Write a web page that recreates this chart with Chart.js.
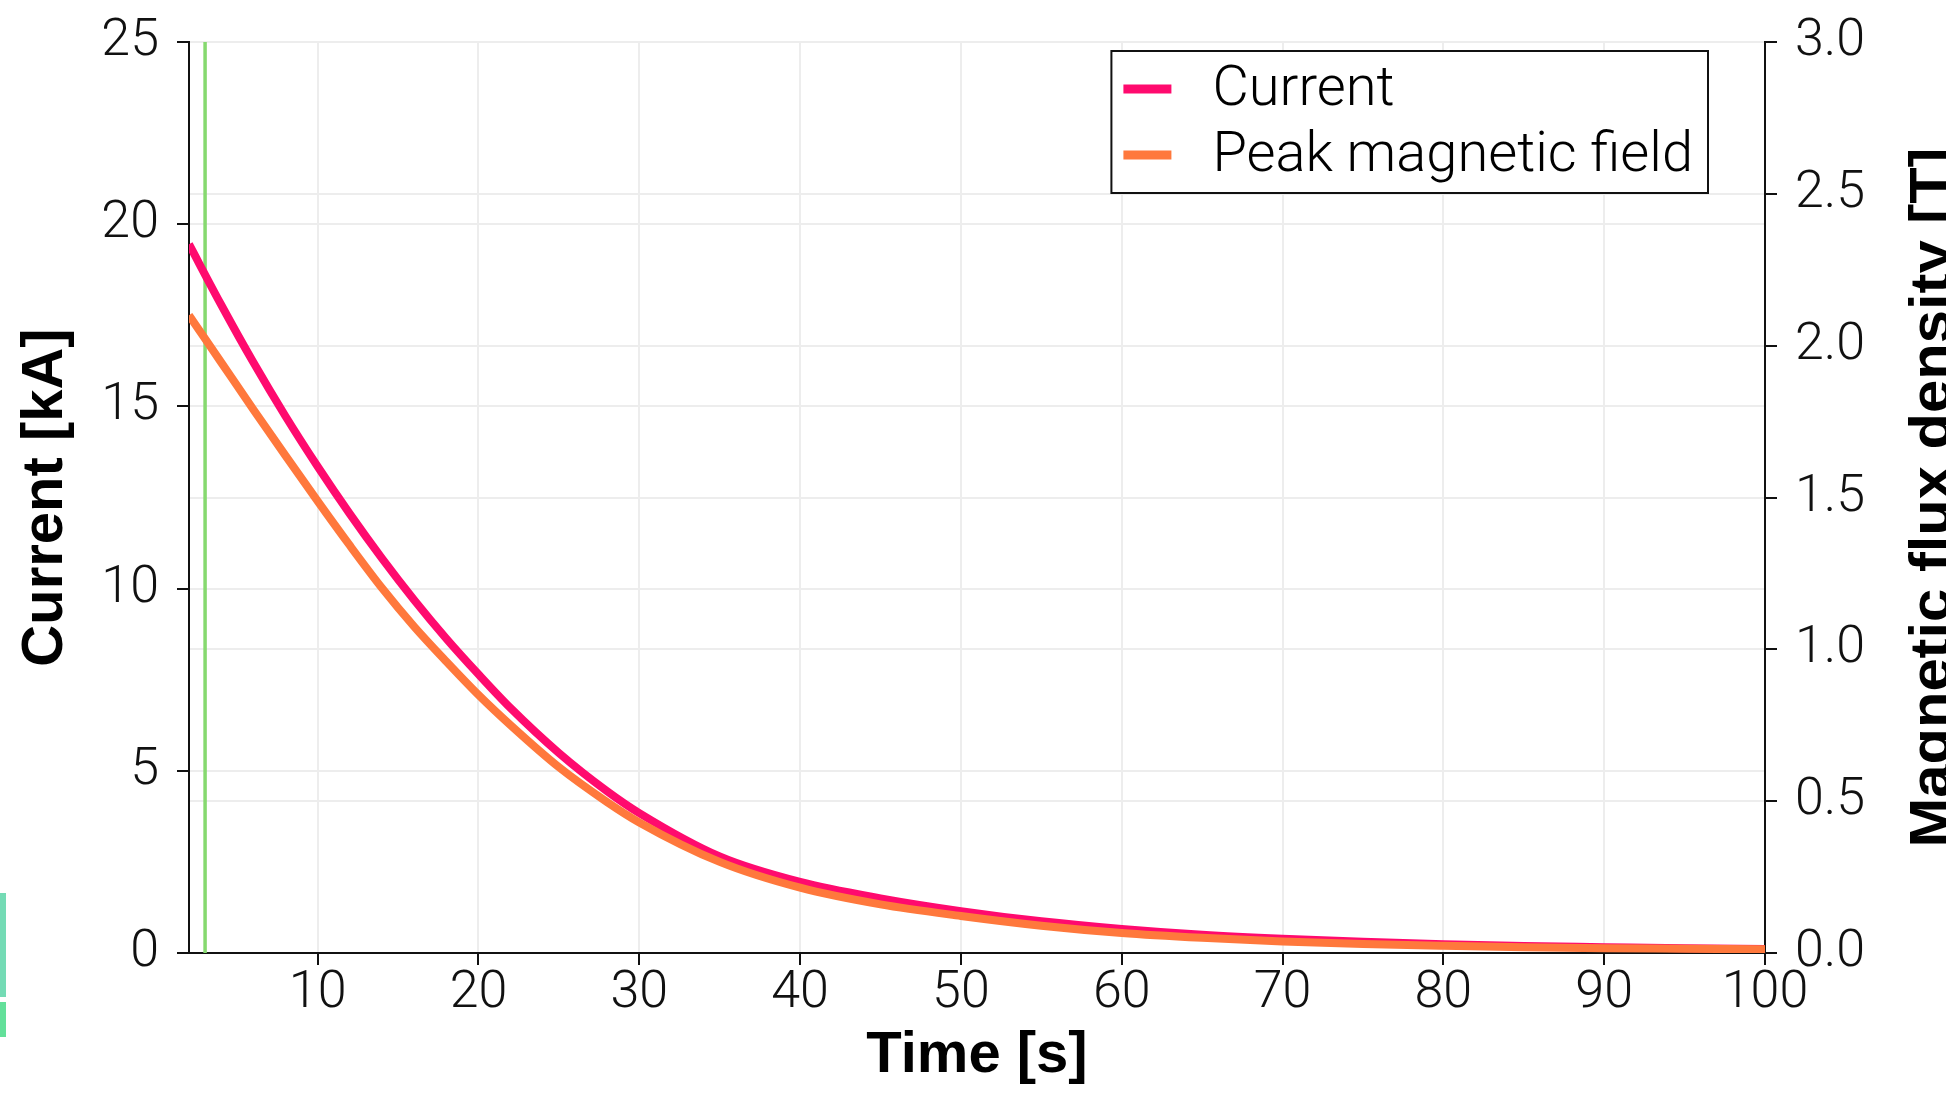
<!DOCTYPE html>
<html>
<head>
<meta charset="utf-8">
<title>Current and peak magnetic field decay</title>
<script src="https://cdn.jsdelivr.net/npm/chart.js@4.4.1/dist/chart.umd.min.js"></script>
<style>
	html, body { margin: 0; padding: 0; background: #fff; }
	#wrap { position: relative; width: 1946px; height: 1095px; }
</style>
</head>
<body>
<div id="wrap"><canvas id="chart"></canvas></div>
<script>
// values
const timeS = [2, 4, 6, 8, 10, 12, 14, 16, 18, 20, 22, 25, 28, 30, 35, 40, 45, 50, 55, 60, 65, 70, 75, 80, 85, 90, 95, 100];
const currentKA = [19.45, 17.79, 16.21, 14.73, 13.35, 12.05, 10.83, 9.69, 8.63, 7.65, 6.72, 5.49, 4.44, 3.84, 2.65, 1.95, 1.5, 1.15, 0.87, 0.66, 0.5, 0.39, 0.31, 0.24, 0.19, 0.16, 0.13, 0.11];
const peakFieldT = [2.1, 1.945, 1.79, 1.638, 1.488, 1.342, 1.202, 1.075, 0.96, 0.85, 0.75, 0.612, 0.497, 0.43, 0.3, 0.215, 0.16, 0.122, 0.09, 0.066, 0.05, 0.038, 0.03, 0.024, 0.019, 0.016, 0.014, 0.012];
const timeTicks = [10, 20, 30, 40, 50, 60, 70, 80, 90, 100];
const markerTime = 3;
const currentRange = [0, 25];
const fieldRange = [0, 3];

const tickFont = { family: 'Roboto', size: 52, weight: '300' };
// tighter line height so the top label does not push the plot down
const yTickFont = { family: 'Roboto', size: 52, weight: '300', lineHeight: 0.9 };
const titleFont = { family: '"Liberation Sans"', size: 58, weight: 'bold' };
const gridColor = '#ededed';

function toPoints(xs, ys) {
	return xs.map((x, i) => ({ x, y: ys[i] }));
}

// legend box, right-hand title and the two stray marks at the left edge
const extrasPlugin = {
	id: 'extras',
	afterDraw(chart) {
		const { ctx, chartArea } = chart;
		const items = chart.data.datasets.filter((ds) => ds.inLegend);

		ctx.save();
		ctx.font = '300 56px Roboto';
		const textWidth = Math.max(...items.map((ds) => ctx.measureText(ds.label).width));
		const right = chartArea.right - 57;
		const left = right - (12 + 48 + 41 + textWidth + 15);
		const top = chartArea.top + 9;
		const rowHeight = 66;
		const height = 38 + rowHeight + 38;

		ctx.fillStyle = '#fff';
		ctx.fillRect(left, top, right - left, height);
		ctx.strokeStyle = '#111';
		ctx.lineWidth = 2;
		ctx.strokeRect(left, top, right - left, height);

		items.forEach((ds, i) => {
			const cy = top + 38 + i * rowHeight;
			ctx.strokeStyle = ds.borderColor;
			ctx.lineWidth = 9;
			ctx.beginPath();
			ctx.moveTo(left + 12, cy);
			ctx.lineTo(left + 60, cy);
			ctx.stroke();
			ctx.fillStyle = '#000';
			ctx.textBaseline = 'middle';
			ctx.textAlign = 'left';
			ctx.fillText(ds.label, left + 101, cy + 2);
		});

		// right axis title reads bottom-to-top and runs off the canvas edge
		const rightTitle = 'Magnetic flux density [T]';
		ctx.font = 'bold 58px "Liberation Sans"';
		const w = ctx.measureText(rightTitle).width;
		ctx.translate(chart.width + 4, (chartArea.top + chartArea.bottom) / 2);
		ctx.rotate(-Math.PI / 2);
		ctx.scale(700 / w, 1);
		ctx.textAlign = 'center';
		ctx.textBaseline = 'alphabetic';
		ctx.fillStyle = '#000';
		ctx.fillText(rightTitle, 0, 0);
		ctx.restore();

		ctx.save();
		ctx.fillStyle = '#74dbb5';
		ctx.fillRect(0, 893, 6, 104);
		ctx.fillStyle = '#63e09a';
		ctx.fillRect(0, 1002, 6, 35);
		ctx.restore();
	},
};

const ctx = document.getElementById('chart');

new Chart(ctx, {
	type: 'line',
	data: {
		datasets: [
			{
				label: 'Current',
				data: toPoints(timeS, currentKA),
				yAxisID: 'yCurrent',
				borderColor: '#ff0a6e',
				borderWidth: 8,
				pointRadius: 0,
				cubicInterpolationMode: 'monotone',
				order: 1,
				inLegend: true,
			},
			{
				label: 'Peak magnetic field',
				data: toPoints(timeS, peakFieldT),
				yAxisID: 'yField',
				borderColor: '#ff783c',
				borderWidth: 8,
				pointRadius: 0,
				cubicInterpolationMode: 'monotone',
				order: 0,
				inLegend: true,
			},
			{
				label: 'marker',
				data: currentRange.map((y) => ({ x: markerTime, y })),
				yAxisID: 'yCurrent',
				borderColor: '#86d96f',
				borderWidth: 3.5,
				pointRadius: 0,
				order: 2,
				inLegend: false,
			},
		],
	},
	options: {
		responsive: true,
		maintainAspectRatio: false,
		animation: false,
		layout: { padding: { top: 42, left: 0, right: 0, bottom: 0 } },
		plugins: {
			legend: { display: false },
			tooltip: { enabled: false },
		},
		scales: {
			x: {
				type: 'linear',
				min: 2,
				max: 100,
				afterBuildTicks: (scale) => {
					scale.ticks = timeTicks.map((value) => ({ value }));
				},
				afterFit: (scale) => {
					scale.height = 142;
				},
				grid: { color: gridColor, lineWidth: 2, tickColor: '#111', tickLength: 12, tickWidth: 2 },
				border: { color: '#111', width: 2 },
				ticks: { font: tickFont, color: '#111', padding: -2, maxRotation: 0 },
				title: {
					display: true,
					text: 'Time [s]',
					font: titleFont,
					color: '#000',
					padding: { top: 0, bottom: 4 },
				},
			},
			yCurrent: {
				position: 'left',
				min: currentRange[0],
				max: currentRange[1],
				afterFit: (scale) => {
					scale.width = 189;
				},
				grid: { color: gridColor, lineWidth: 2, tickColor: '#111', tickLength: 12, tickWidth: 2 },
				border: { color: '#111', width: 2 },
				ticks: { stepSize: 5, font: yTickFont, color: '#111', padding: 18 },
				title: {
					display: true,
					text: 'Current [kA]',
					font: titleFont,
					color: '#000',
					padding: { top: 11, bottom: 0 },
				},
			},
			yField: {
				position: 'right',
				min: fieldRange[0],
				max: fieldRange[1],
				afterFit: (scale) => {
					scale.width = 181;
				},
				grid: { color: gridColor, lineWidth: 2, tickColor: '#111', tickLength: 12, tickWidth: 2 },
				border: { color: '#111', width: 2 },
				ticks: {
					stepSize: 0.5,
					font: yTickFont,
					color: '#111',
					padding: 18,
					callback: (value) => value.toFixed(1),
				},
			},
		},
	},
	plugins: [extrasPlugin],
});
</script>
</body>
</html>
